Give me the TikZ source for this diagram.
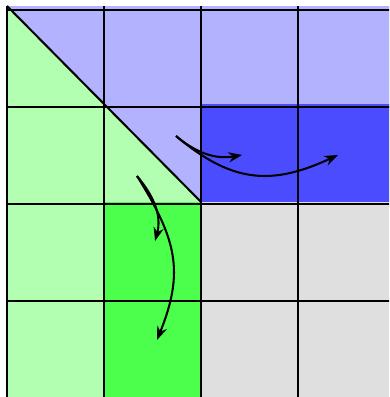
\documentclass[tikz,border=0pt]{standalone}
\usetikzlibrary{arrows.meta}

\begin{document}
\begin{tikzpicture}[x=1cm,y=1.01cm]
\clip (-0.072,0.01) rectangle (3.938,4.061);
% background blocks
\fill[gray!25] (0,0) rectangle (4,4);
\fill[blue!30] (0,3) rectangle (4,4);
\fill[blue!30] (1,3) -- (2,3) -- (2,2) -- cycle;
\fill[blue!70] (2,2) rectangle (4,3);
\fill[green!30] (0,0) rectangle (1,3);
\fill[green!30] (0,4) -- (0,3) -- (1,3) -- cycle;
\fill[green!30] (1,3) -- (1,2) -- (2,2) -- cycle;
\fill[green!70] (1,0) rectangle (2,2);
\draw[semithick] (0,0) grid (4,4);
\draw[semithick] (0,4) -- (2,2);
% arrows
\coordinate (rowstart) at (1.742,2.673);
\coordinate (rowa) at (2.423,2.48);
\coordinate (rowb) at (3.412,2.48);
\coordinate (colstart) at (1.34,2.265);
\coordinate (cola) at (1.526,1.602);
\coordinate (colb) at (1.546,0.592);
\draw[semithick,-{Stealth[length=4pt,width=3pt]}] (rowstart) to[out=-40,in=190] (rowa);
\draw[semithick,-{Stealth[length=4pt,width=3pt]}] (rowstart) to[out=-40,in=205,looseness=1.15] (rowb);
\draw[semithick,-{Stealth[length=4pt,width=3pt]}] (colstart) to[out=-50,in=75] (cola);
\draw[semithick,-{Stealth[length=4pt,width=3pt]}] (colstart) to[out=-58,in=68,looseness=1.15] (colb);
\end{tikzpicture}
\end{document}
